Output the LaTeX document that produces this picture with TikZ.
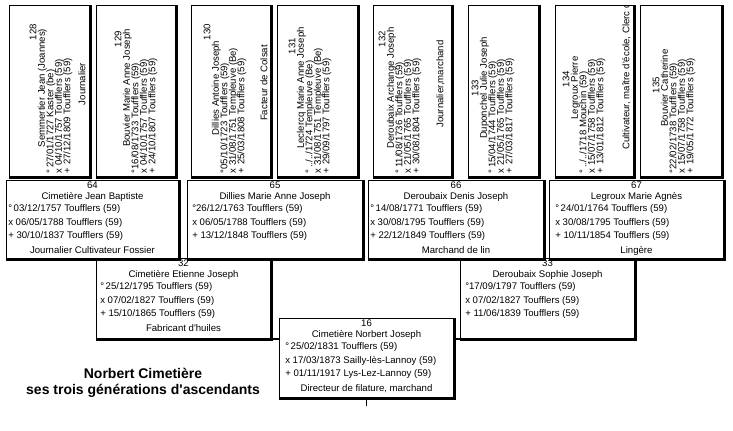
\documentclass[tikz,border=0pt]{standalone}
\usepackage{fontspec}
\setmainfont{Liberation Sans}[Ligatures=TeXOff]
\usetikzlibrary{calc}
\newcommand\gbox[5]{%
  \node[pbox,minimum width={(#4-#2)*0.75pt},minimum height={(#5-#3)*0.75pt}] (#1) at (#2,#3) {};
  \draw[shad] (#1.north east) -- (#1.south east) -- (#1.south west);}
\newcommand\hcontent[7]{%
  \node[ht] (#1n) at ($(#1.north)+(0,5.5)$) {#3};
  \node[ht] (#1m) at ($(#1.north)+(0,16)$) {#4};
  \node[ht,anchor=west] (#1b) at ($(#1.north west)+(#2,28.5)$) {#5};
  \node[ht,anchor=west] (#1x) at ($(#1.north west)+(#2,42)$) {#6};
  \node[ht,anchor=west] (#1d) at ($(#1.north west)+(#2,55)$) {#7};}
\newcommand\rcontent[8]{%
  \node[rt] (#1n) at (#2,#3) {#4};
  \node[rt] (#1m) at (#2+8.5,88) {#5};
  \node[rt,anchor=west] (#1b) at (#2+17,173.5) {#6};
  \node[rt,anchor=west] (#1x) at (#2+25.5,173.5) {#7};
  \node[rt,anchor=west] (#1d) at (#2+34,173.5) {#8};}
\begin{document}
\begin{tikzpicture}[x=0.75pt,y=-0.75pt,
  pbox/.style={draw=black,line width=0.75pt,fill=white,inner sep=0pt,anchor=north west},
  shad/.style={line width=2.25pt},
  conn/.style={line width=1.1pt},
  tick/.style={line width=0.9pt},
  ht/.style={font=\fontsize{7.2pt}{8pt}\selectfont,inner sep=0pt,text height=5.2pt,text depth=0pt},
  rt/.style={ht,rotate=90},
  ttl/.style={font=\bfseries\fontsize{10.5pt}{12pt}\selectfont,inner sep=0pt,text height=7.5pt,text depth=0pt}]
\fill[white] (0,0) rectangle (733,430);
\useasboundingbox (0,0) rectangle (733,430);
% boxes, youngest first
\gbox{b16}{279}{318}{453}{397}
\gbox{b32}{96}{258}{270}{338}
\gbox{b33}{460}{258}{634}{338}
\gbox{b64}{6}{180}{178}{258}
\gbox{b65}{187}{180}{362}{258}
\gbox{b66}{368}{180}{543}{258}
\gbox{b67}{549}{180}{723}{258}
\gbox{b128}{9}{5}{89}{176}
\gbox{b129}{96}{5}{175}{176}
\gbox{b130}{191}{5}{270}{176}
\gbox{b131}{277}{5}{357}{176}
\gbox{b132}{373}{5}{451}{176}
\gbox{b133}{468}{5}{538}{176}
\gbox{b134}{555}{5}{633}{176}
\gbox{b135}{640}{5}{721}{176}
% connectors
\draw[conn] (b32.south east) -- (b32.south east -| b16.west);
\draw[conn] (b16.east |- b33.south west) -- (b33.south west);
\coordinate (k16) at ($(b16.south)+(0,8)$);
\draw[tick] (b16.south) -- (k16);
% horizontal boxes
\hcontent{b16}{6}{16}{Cimetière Norbert Joseph}{°\,25/02/1831 Toufflers (59)}{x 17/03/1873 Sailly-lès-Lannoy (59)}{+ 01/11/1917 Lys-Lez-Lannoy (59)}
\node[ht] (b16o) at ($(b16.north)+(0,70)$) {Directeur de filature, marchand};
\hcontent{b32}{4}{32}{Cimetière Etienne Joseph}{°\,25/12/1795 Toufflers (59)}{x 07/02/1827 Toufflers (59)}{+ 15/10/1865 Toufflers (59)}
\node[ht] (b32o) at ($(b32.north)+(0,70)$) {Fabricant d'huiles};
\hcontent{b33}{5}{33}{Deroubaix Sophie Joseph}{°17/09/1797 Toufflers (59)}{x 07/02/1827 Toufflers (59)}{+ 11/06/1839 Toufflers (59)}
\hcontent{b64}{2}{64}{Cimetière Jean Baptiste}{°\,03/12/1757 Toufflers (59)}{x 06/05/1788 Toufflers (59)}{+ 30/10/1837 Toufflers (59)}
\node[ht] (b64o) at ($(b64.north)+(0,70)$) {Journalier Cultivateur Fossier};
\hcontent{b65}{5}{65}{Dillies Marie Anne Joseph}{°26/12/1763 Toufflers (59)}{x 06/05/1788 Toufflers (59)}{+ 13/12/1848 Toufflers (59)}
\hcontent{b66}{2}{66}{Deroubaix Denis Joseph}{°\,14/08/1771 Toufflers (59)}{x 30/08/1795 Toufflers (59)}{+ 22/12/1849 Toufflers (59)}
\node[ht] (b66o) at ($(b66.north)+(0,70)$) {Marchand de lin};
\hcontent{b67}{6}{67}{Legroux Marie Agnès}{°\,24/01/1764 Toufflers (59)}{x 30/08/1795 Toufflers (59)}{+ 10/11/1854 Toufflers (59)}
\node[ht] (b67o) at ($(b67.north)+(0,70)$) {Lingère};
% rotated boxes
\rcontent{b128}{33}{32}{128}{Semmertier Jean (Joannes)}{°\,27/01/1727 Kaster (be)}{x 04/10/1757 Toufflers (59)}{+ 27/12/1809 Toufflers (59)}
\node[rt] (b128o) at (82,84) {Journalier};
\rcontent{b129}{118}{39}{129}{Bouvier Marie Anne Joseph}{°16/08/1733 Toufflers (59)}{x 04/10/1757 Toufflers (59)}{+ 24/10/1807 Toufflers (59)}
\rcontent{b130}{207}{32}{130}{Dillies Antoine Joseph}{°05/10/1723 Toufflers (59)}{x 31/08/1751 Templeuve (Be)}{+ 25/03/1808 Toufflers (59)}
\node[rt] (b130o) at (264,83) {Facteur de Colsat};
\rcontent{b131}{292}{46}{131}{Leclercq Marie Anne Joseph}{°\,../../1724 Templeuve (Be)}{x 31/08/1751 Templeuve (Be)}{+ 29/09/1797 Toufflers (59)}
\rcontent{b132}{382}{39}{132}{Deroubaix Archange Joseph}{°\,11/08/1736 Toufflers (59)}{x 21/05/1765 Toufflers (59)}{+ 30/08/1804 Toufflers (59)}
\node[rt] (b132o) at (440,84) {Journalier,marchand};
\rcontent{b133}{475}{88}{133}{Duponchel Julie Joseph}{°\,15/04/1744 Toufflers (59)}{x 21/05/1765 Toufflers (59)}{+ 27/03/1817 Toufflers (59)}
\rcontent{b134}{566}{79}{134}{Legroux Pierre}{°\,../../1718 Mouchin (59)}{x 15/07/1758 Toufflers (59)}{+ 13/01/1812 Toufflers (59)}
\begin{scope}
\clip (b134.north west) rectangle (b134.south east);
\node[rt,anchor=west] (b134o) at (626,150) {Cultivateur, maître d'école, Clerc de};
\end{scope}
\rcontent{b135}{656}{85}{135}{Bouvier Catherine}{°22/02/1738 Toufflers (59)}{x 15/07/1758 Toufflers (59)}{+ 19/05/1772 Toufflers (59)}
% title
\node[ttl] (title1) at (143,373) {Norbert Cimetière};
\node[ttl] (title2) at (143,389) {ses trois générations d'ascendants};
\end{tikzpicture}
\end{document}
